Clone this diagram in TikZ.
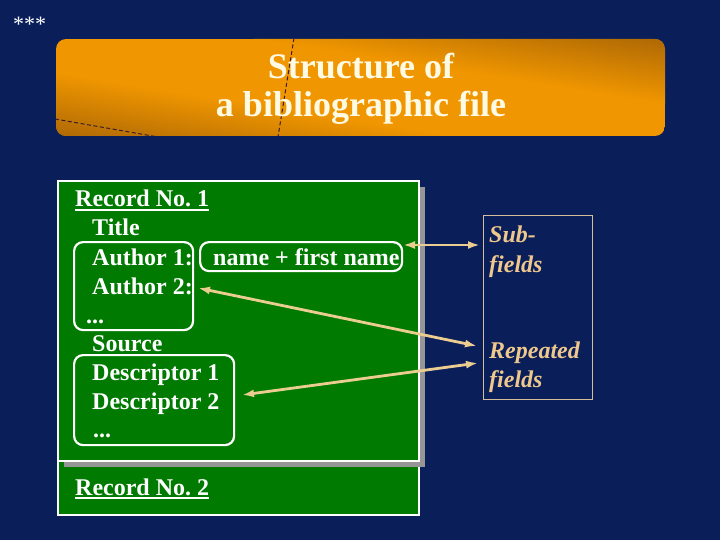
\documentclass[tikz,border=0pt]{standalone}
\usepackage{fontspec}
\setmainfont{Liberation Serif}
\usetikzlibrary{arrows.meta}
\definecolor{navy}{RGB}{10,30,90}
\definecolor{orng}{RGB}{240,150,0}
\definecolor{dkorng}{RGB}{165,98,5}
\definecolor{recgreen}{RGB}{0,122,0}
\definecolor{shadowgray}{RGB}{150,150,150}
\definecolor{titletext}{RGB}{255,250,228}
\definecolor{arrowtan}{RGB}{236,205,145}
\definecolor{fieldtext}{RGB}{238,200,140}
\definecolor{fieldline}{RGB}{215,190,155}
\definecolor{dashdark}{RGB}{60,30,45}
\tikzset{
  rectext/.style={anchor=base west, inner sep=0pt, text=white, font=\bfseries\fontsize{24}{29}\selectfont},
  fieldlabel/.style={anchor=base west, inner sep=0pt, text=fieldtext, font=\bfseries\itshape\fontsize{24}{29}\selectfont},
  titletxt/.style={anchor=base, inner sep=0pt, text=titletext, font=\bfseries\fontsize{36}{39}\selectfont},
  roundbox/.style={draw=white, line width=2.2pt, rounded corners=9pt, anchor=north west, inner sep=0pt},
  recline/.style={draw=white, line width=2pt},
  twoarrow/.style={draw=arrowtan, line width=2.8pt, {Latex[length=12pt,width=8pt]}-{Latex[length=12pt,width=8pt]}},
  dashline/.style={draw=dashdark, line width=1pt, dash pattern=on 4pt off 2.5pt}
}
\frenchspacing
\begin{document}
\begin{tikzpicture}[x=1pt,y=-1pt]
\useasboundingbox (0,0) rectangle (720,540);
\fill[navy] (0,0) rectangle (720,540);

% stars
\node[anchor=base west, inner sep=0pt, text=white, font=\fontsize{22}{22}\selectfont] (stars) at (13,32) {***};

% title box
\begin{scope}
  \clip[rounded corners=10pt] (56,39) rectangle (665,136);
  \fill[orng] (56,39) rectangle (665,136);
  \begin{scope}[transform canvas={shift={(360,88)},rotate=-9}]
    \shade[top color=dkorng, bottom color=orng] (-450,-105) rectangle (450,-32);
    \shade[top color=orng, bottom color=dkorng] (-450,32) rectangle (450,105);
  \end{scope}
  \draw[dashline] (294,38) -- (278,137);
  \draw[dashline] (55,119) -- (158,137);
\end{scope}
\node[titletxt] (title1) at (361,79) {Structure of};
\node[titletxt] (title2) at (361,117) {a bibliographic file};

% record boxes
\fill[recgreen] (58,181) rectangle (419,515);
\draw[recline] (58,181) rectangle (419,515);
\fill[shadowgray] (64,187) rectangle (425,467);
\fill[recgreen] (58,181) rectangle (419,461);
\draw[recline] (58,181) rectangle (419,461);

% texts
\node[rectext] (rec1) at (75,207) {Record No. 1};
\draw[draw=white, line width=1.6pt] ([yshift=-3pt]rec1.base west) -- ([yshift=-3pt]rec1.base east);
\node[rectext] (ttl) at (92,236) {Title};
\node[rectext] (au1) at (92,265) {Author 1:};
\node[rectext] (au2) at (92,294) {Author 2:};
\node[rectext] (dots1) at (86,323) {...};
\node[rectext] (src) at (92,351) {Source};
\node[rectext] (de1) at (92,380) {Descriptor 1};
\node[rectext] (de2) at (92,409) {Descriptor 2};
\node[rectext] (dots2) at (93,437) {...};
\node[rectext] (rec2) at (75,495) {Record No. 2};
\draw[draw=white, line width=1.6pt] ([yshift=-3pt]rec2.base west) -- ([yshift=-3pt]rec2.base east);

% rounded boxes
\node[roundbox, minimum width=119pt, minimum height=88pt] (aubox) at (73,241) {};
\node[roundbox, minimum width=202pt, minimum height=29pt] (nmbox) at (199,241) {};
\node[rectext] (nmtext) at (213,265) {name + first name};
\node[roundbox, minimum width=160pt, minimum height=90pt] (debox) at (73,354) {};

% fields box
\node[draw=fieldline, line width=1.2pt, anchor=north west, inner sep=0pt, minimum width=109pt, minimum height=184pt] (fbox) at (483,215) {};
\node[fieldlabel] (sub) at (489,243) {Sub-};
\node[fieldlabel] (subf) at (489,272) {fields};
\node[fieldlabel] (rep) at (489,358) {Repeated};
\node[fieldlabel] (repf) at (489,387) {fields};

% arrow end points
\coordinate (a1l) at (403,245);
\coordinate (a1r) at (480,245);
\coordinate (a2l) at (198,288);
\coordinate (a2r) at (477,346);
\coordinate (a3l) at (242,395);
\coordinate (a3r) at (478,363);
\draw[twoarrow] (a1l) -- (a1r);
\draw[twoarrow] (a2l) -- (a2r);
\draw[twoarrow] (a3l) -- (a3r);
\end{tikzpicture}
\end{document}
